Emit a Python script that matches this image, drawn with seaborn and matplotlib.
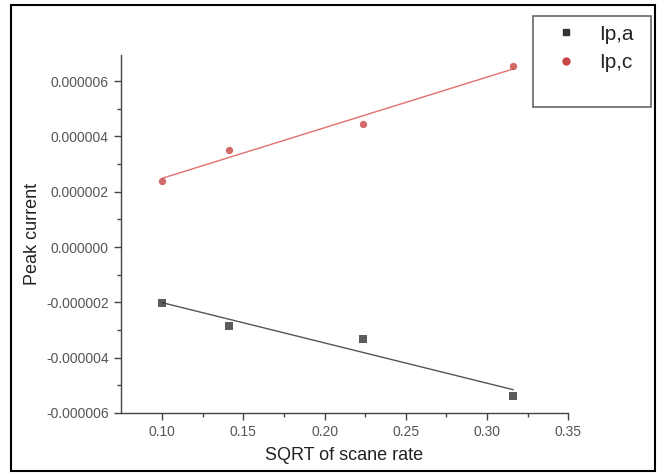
import numpy as np
import pandas as pd
import matplotlib
matplotlib.use("Agg")
import matplotlib.pyplot as plt
from matplotlib.patches import Rectangle
from matplotlib.lines import Line2D
import seaborn as sns

# data
scan_rate_sqrt = [0.1, 0.1414, 0.2236, 0.3162]
ip_a = [-2.02e-6, -2.86e-6, -3.33e-6, -5.39e-6]
ip_c = [2.39e-6, 3.52e-6, 4.45e-6, 6.56e-6]
series_names = ["Ip,a", "Ip,c"]
y_ticks = [-6e-6, -4e-6, -2e-6, 0, 2e-6, 4e-6, 6e-6]
x_ticks = [0.10, 0.15, 0.20, 0.25, 0.30, 0.35]

df = pd.DataFrame({
    "x": scan_rate_sqrt * 2,
    "y": ip_a + ip_c,
    "serie": [series_names[0]] * 4 + [series_names[1]] * 4,
})

sns.set_style("ticks")
plt.rcParams["font.family"] = ["Liberation Sans", "DejaVu Sans"]

fig = plt.figure(figsize=(6.6, 4.73), dpi=100)
ax = fig.add_axes([0.183, 0.127, 0.678, 0.757])

estilos = {
    "Ip,a": dict(marker="s", pt="#333333", ln="#555555"),
    "Ip,c": dict(marker="o", pt="#c94444", ln="#e07070"),
}
for nome in series_names:
    d = df[df["serie"] == nome]
    e = estilos[nome]
    sns.regplot(data=d, x="x", y="y", ci=None, ax=ax, marker=e["marker"],
                scatter_kws=dict(color=e["pt"], s=28, linewidths=0, zorder=3),
                line_kws=dict(color=e["ln"], lw=1.0))

ax.set_xlim(0.0745, 0.35)
ax.set_ylim(-6e-6, 6.95e-6)
ax.set_xticks(x_ticks)
ax.set_yticks(y_ticks)
ax.set_xticklabels([f"{v:.2f}" for v in x_ticks])
ax.set_yticklabels([f"{v:.6f}" for v in y_ticks])
ax.set_xticks(np.arange(0.125, 0.35, 0.05), minor=True)
ax.set_yticks(np.arange(-5e-6, 7e-6, 2e-6), minor=True)
ax.tick_params(axis="both", which="major", labelsize=10, labelcolor="#555555",
               color="#444444", length=5, width=1, direction="out")
ax.tick_params(axis="both", which="minor", color="#444444", length=3, width=1,
               direction="out")
for s in ["top", "right"]:
    ax.spines[s].set_visible(False)
for s in ["left", "bottom"]:
    ax.spines[s].set_color("#444444")
    ax.spines[s].set_linewidth(1.0)

ax.set_xlabel("SQRT of scane rate", fontsize=13, labelpad=6, color="#222222")
ax.set_ylabel("Peak current", fontsize=13, labelpad=4, color="#222222")

# legend box like Origin
fig.patches.append(Rectangle((533 / 660, 1 - 107 / 473), 118 / 660, 91 / 473,
                             transform=fig.transFigure, fill=False,
                             edgecolor="#666666", lw=1.2))
handles = [
    Line2D([], [], ls="", marker="s", color="#333333", markersize=4),
    Line2D([], [], ls="", marker="o", color="#c94444", markersize=5),
]
fig.legend(handles, series_names, loc="upper left",
           bbox_to_anchor=(537 / 660, 1 - 6 / 473), frameon=False,
           fontsize=15, handlelength=1.0, handletextpad=1.1, labelspacing=0.45)

# outer border
fig.patches.append(Rectangle((11 / 660, 2 / 473), 644 / 660, 466 / 473,
                             transform=fig.transFigure, fill=False,
                             edgecolor="black", lw=1.5))

fig.savefig("out.png", dpi=100, facecolor="white")
